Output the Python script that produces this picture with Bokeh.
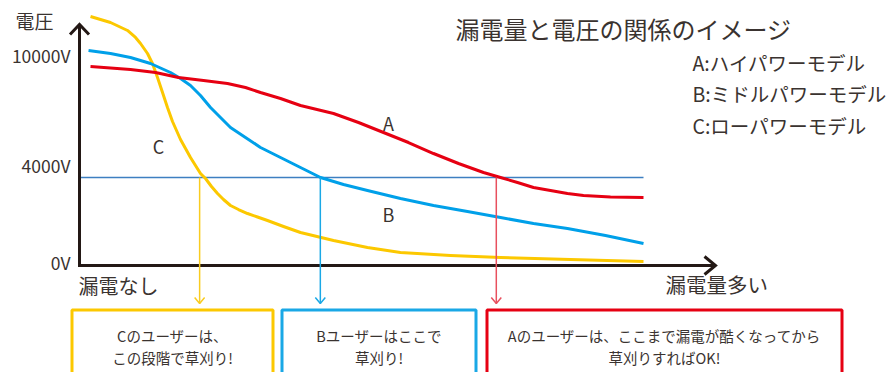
import numpy as np
from bokeh.plotting import figure
from bokeh.models import Range1d, ColumnDataSource
from bokeh.core.properties import value
from bokeh.embed import file_html
from bokeh.resources import INLINE

# ---------------- data ----------------
# leakage level (0..100, arbitrary units) vs voltage (V)
x_a = [1.95, 9.04, 13.48, 17.55, 21.99, 26.24, 29.43, 32.09, 35.64, 39.18, 45.04, 49.47, 53.90,
       58.33, 62.77, 67.20, 71.63, 74.65, 77.66, 80.50, 83.51, 86.52, 89.36, 94.15, 100]
v_a = [9045, 8908, 8772, 8545, 8408, 8272, 8090, 7863, 7590, 7272, 6908, 6499, 6045,
       5590, 5090, 4636, 4227, 4000, 3772, 3545, 3409, 3272, 3182, 3113, 3091]

x_b = [1.60, 5.50, 9.04, 12.59, 16.13, 17.91, 19.68, 21.45, 23.23, 25.00, 26.77, 29.43, 32.09,
       35.64, 39.18, 42.73, 46.81, 51.06, 56.91, 62.77, 68.79, 74.65, 80.50, 86.52, 93.26, 100]
v_b = [9772, 9635, 9454, 9181, 8772, 8499, 8181, 7727, 7181, 6727, 6272, 5818, 5363,
       4909, 4454, 4000, 3681, 3409, 3045, 2727, 2454, 2182, 1909, 1682, 1364, 1000]

x_c = [1.95, 5.50, 8.51, 9.93, 10.82, 12.06, 12.94, 13.83, 14.72, 15.60, 16.49, 17.91, 19.68,
       21.45, 22.34, 23.40, 24.47, 25.53, 26.77, 28.19, 29.79, 31.56, 33.33, 36.17, 39.18,
       45.04, 51.06, 56.91, 65.78, 74.65, 87.06, 100]
v_c = [11317, 11044, 10681, 10363, 10090, 9635, 9181, 8545, 7863, 7181, 6545, 5727, 4909,
       4181, 3954, 3591, 3272, 3000, 2727, 2545, 2363, 2204, 2045, 1773, 1500,
       1136, 818, 591, 455, 364, 273, 182]

threshold = 4000
threshold_end = 100
mow_at = [73.9, 42.7, 21.3]          # A, B, C : leakage level where users mow

y_ticks = [0, 4000, 10000]
y_tick_labels = ["0V", "4000V", "10000V"]

series_names = ["A", "B", "C"]
legend_labels = ["A:ハイパワーモデル", "B:ミドルパワーモデル", "C:ローパワーモデル"]
title_text = "漏電量と電圧の関係のイメージ"
y_title = "電圧"
x_left_label = "漏電なし"
x_right_label = "漏電量多い"
box_texts = [
    ["Cのユーザーは、", "この段階で草刈り!"],
    ["Bユーザーはここで", "草刈り!"],
    ["Aのユーザーは、ここまで漏電が酷くなってから", "草刈りすればOK!"],
]

# ---------------- styling / layout ----------------
RED = "#e60012"
BLUE = "#00a0e9"
YEL = "#fcc800"
THR = "#3d7fc1"
INK = "#231815"
TXT = "#3a3330"
FONT = value("Noto Sans CJK JP")

PX_X = 5.64        # px per leakage unit
V_PX = 45.45       # volts per px
X0, Y0 = 79, 265   # layout position of the origin


def X(px):
    return (px - X0) / PX_X


def Y(py):
    return (Y0 - py) * V_PX


W, H = 888, 372
p = figure(width=W, height=H, output_backend="svg", toolbar_location=None,
           x_axis_type=None, y_axis_type=None, min_border=0,
           x_range=Range1d(X(0), X(W)), y_range=Range1d(Y(H), Y(0)))
p.outline_line_color = None
p.grid.visible = False
p.background_fill_color = "white"
p.border_fill_color = "white"

# threshold line
p.line([0, threshold_end], [threshold, threshold], line_color=THR, line_width=1.6)

# curves
p.line(x_c, v_c, line_color=YEL, line_width=3, line_join="round")
p.line(x_b, v_b, line_color=BLUE, line_width=3, line_join="round")
p.line(x_a, v_a, line_color=RED, line_width=3, line_join="round")

# axes with arrows
p.line([0, 0, X(714)], [Y(24), 0, 0], line_color=INK, line_width=3, line_join="miter")
p.line([X(79 - 9.5), 0, X(79 + 9.5)], [Y(34), Y(24), Y(34)], line_color=INK, line_width=3, line_join="miter")
p.line([X(704), X(715), X(704)], [Y(256), 0, Y(274)], line_color=INK, line_width=3, line_join="miter")

# drop arrows
drop_colors = ["#e8505e", "#1aa8e6", "#f9cc20"]
for xm, c in zip(mow_at, drop_colors):
    p.line([xm, xm], [threshold, Y(303)], line_color=c, line_width=1.5)
    p.line([xm - 5 / PX_X, xm, xm + 5 / PX_X], [Y(297), Y(303), Y(297)], line_color=c, line_width=1.5)

# boxes
box_lr = [(71.5, 272.5), (281.5, 475.5), (486.5, 841.5)]
box_cols = [YEL, "#1aa8e6", RED]
for (l, r), c in zip(box_lr, box_cols):
    p.quad(left=X(l), right=X(r), top=Y(309.5), bottom=Y(420), fill_color=None,
           line_color=c, line_width=3)

# box texts
for (l, r), lines in zip(box_lr, box_texts):
    cx = X((l + r) / 2)
    p.text(x=[cx, cx], y=[Y(335), Y(357)], text=lines, text_font=FONT, text_font_size="14.5px",
           text_color=TXT, text_align="center", text_baseline="middle")

# y tick labels
tsrc = ColumnDataSource(dict(x=[X(70)] * 3, y=y_ticks, t=y_tick_labels, off=[-3, -12, 10]))
p.text(x="x", y="y", text="t", y_offset="off", source=tsrc, text_font=FONT, text_font_size="17.5px",
       text_color=TXT, text_align="right", text_baseline="middle")

# axis titles
p.text(x=[X(15)], y=[Y(20)], text=[y_title], text_font=FONT, text_font_size="19px",
       text_color=TXT, text_align="left", text_baseline="middle")
p.text(x=[X(78)], y=[Y(285)], text=[x_left_label], text_font=FONT, text_font_size="20px",
       text_color=TXT, text_align="left", text_baseline="middle")
p.text(x=[X(665)], y=[Y(283)], text=[x_right_label], text_font=FONT, text_font_size="20.5px",
       text_color=TXT, text_align="left", text_baseline="middle")

# series labels
p.text(x=[X(388), X(388), X(158)], y=[Y(122), Y(213), Y(145)], text=series_names, text_font=FONT,
       text_font_size="18px", text_color=TXT, text_align="center", text_baseline="middle")

# title
p.text(x=[X(455)], y=[Y(28)], text=[title_text], text_font=FONT, text_font_size="24px",
       text_color=TXT, text_align="left", text_baseline="middle")

# legend
p.text(x=[X(692)] * 3, y=[Y(62), Y(93), Y(125)], text=legend_labels, text_font=FONT,
       text_font_size="19.5px", text_color=TXT, text_align="left", text_baseline="middle")

open("out.html", "w").write(file_html(p, INLINE))
